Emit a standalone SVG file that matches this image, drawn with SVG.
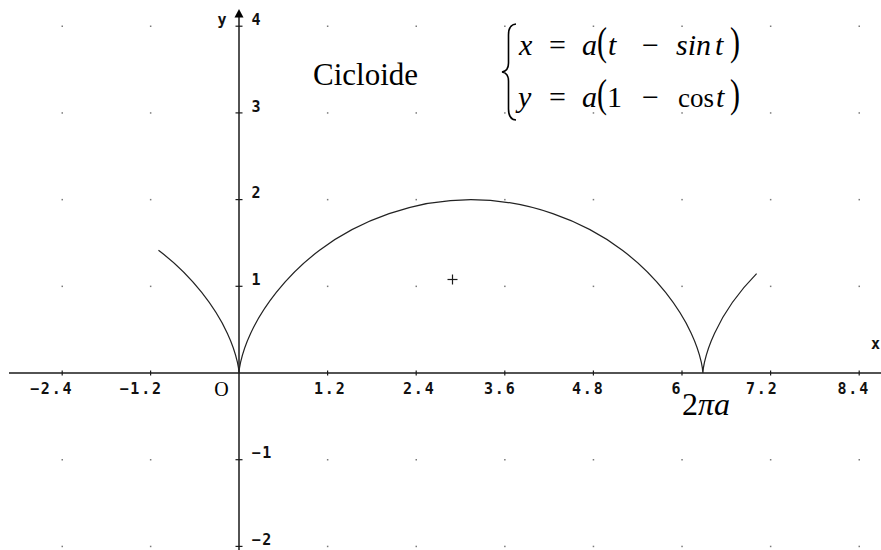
<svg xmlns="http://www.w3.org/2000/svg" width="881" height="550" viewBox="0 0 881 550">
<style>
.ax{stroke:#1a1a1a;stroke-width:1.5;fill:none}
.tk{stroke:#1a1a1a;stroke-width:1.2}
.dot{fill:#7a7a7a}
.lbl{font-family:"DejaVu Sans Mono","Liberation Mono",monospace;font-weight:bold;font-size:15px;letter-spacing:1.8px;fill:#111}
.ser{font-family:"Liberation Serif","Times New Roman","DejaVu Serif",serif;fill:#000}
.it{font-style:italic}
.curve{stroke:#222;stroke-width:1.2;fill:none}
</style>
<rect width="881" height="550" fill="#fff"/>
<g id="grid">
<g class="dot">
<rect x="61.5" y="25.5" width="1.5" height="1.5"/><rect x="149.9" y="25.5" width="1.5" height="1.5"/><rect x="326.9" y="25.5" width="1.5" height="1.5"/><rect x="415.5" y="25.5" width="1.5" height="1.5"/><rect x="504.1" y="25.5" width="1.5" height="1.5"/><rect x="592.7" y="25.5" width="1.5" height="1.5"/><rect x="681.3" y="25.5" width="1.5" height="1.5"/><rect x="769.9" y="25.5" width="1.5" height="1.5"/><rect x="858.5" y="25.5" width="1.5" height="1.5"/>
<rect x="61.5" y="112.2" width="1.5" height="1.5"/><rect x="149.9" y="112.2" width="1.5" height="1.5"/><rect x="326.9" y="112.2" width="1.5" height="1.5"/><rect x="415.5" y="112.2" width="1.5" height="1.5"/><rect x="504.1" y="112.2" width="1.5" height="1.5"/><rect x="592.7" y="112.2" width="1.5" height="1.5"/><rect x="681.3" y="112.2" width="1.5" height="1.5"/><rect x="769.9" y="112.2" width="1.5" height="1.5"/><rect x="858.5" y="112.2" width="1.5" height="1.5"/>
<rect x="61.5" y="198.9" width="1.5" height="1.5"/><rect x="149.9" y="198.9" width="1.5" height="1.5"/><rect x="326.9" y="198.9" width="1.5" height="1.5"/><rect x="415.5" y="198.9" width="1.5" height="1.5"/><rect x="504.1" y="198.9" width="1.5" height="1.5"/><rect x="592.7" y="198.9" width="1.5" height="1.5"/><rect x="681.3" y="198.9" width="1.5" height="1.5"/><rect x="769.9" y="198.9" width="1.5" height="1.5"/><rect x="858.5" y="198.9" width="1.5" height="1.5"/>
<rect x="61.5" y="285.6" width="1.5" height="1.5"/><rect x="149.9" y="285.6" width="1.5" height="1.5"/><rect x="326.9" y="285.6" width="1.5" height="1.5"/><rect x="415.5" y="285.6" width="1.5" height="1.5"/><rect x="504.1" y="285.6" width="1.5" height="1.5"/><rect x="592.7" y="285.6" width="1.5" height="1.5"/><rect x="681.3" y="285.6" width="1.5" height="1.5"/><rect x="769.9" y="285.6" width="1.5" height="1.5"/><rect x="858.5" y="285.6" width="1.5" height="1.5"/>
<rect x="61.5" y="459" width="1.5" height="1.5"/><rect x="149.9" y="459" width="1.5" height="1.5"/><rect x="326.9" y="459" width="1.5" height="1.5"/><rect x="415.5" y="459" width="1.5" height="1.5"/><rect x="504.1" y="459" width="1.5" height="1.5"/><rect x="592.7" y="459" width="1.5" height="1.5"/><rect x="681.3" y="459" width="1.5" height="1.5"/><rect x="769.9" y="459" width="1.5" height="1.5"/><rect x="858.5" y="459" width="1.5" height="1.5"/>
<rect x="61.5" y="545.7" width="1.5" height="1.5"/><rect x="149.9" y="545.7" width="1.5" height="1.5"/><rect x="326.9" y="545.7" width="1.5" height="1.5"/><rect x="415.5" y="545.7" width="1.5" height="1.5"/><rect x="504.1" y="545.7" width="1.5" height="1.5"/><rect x="592.7" y="545.7" width="1.5" height="1.5"/><rect x="681.3" y="545.7" width="1.5" height="1.5"/><rect x="769.9" y="545.7" width="1.5" height="1.5"/><rect x="858.5" y="545.7" width="1.5" height="1.5"/>
</g>
</g>
<g id="axes">
<line class="ax" x1="9" y1="373" x2="881" y2="373"/>
<line class="ax" x1="239" y1="15" x2="239" y2="550"/>
<polygon points="239,9 234.5,17.5 243.5,17.5" fill="#000"/>
<g class="tk">
<line x1="62.2" y1="370.5" x2="62.2" y2="375.5"/><line x1="150.6" y1="370.5" x2="150.6" y2="375.5"/><line x1="327.6" y1="370.5" x2="327.6" y2="375.5"/><line x1="416.2" y1="370.5" x2="416.2" y2="375.5"/><line x1="504.8" y1="370.5" x2="504.8" y2="375.5"/><line x1="593.4" y1="370.5" x2="593.4" y2="375.5"/><line x1="682" y1="370.5" x2="682" y2="375.5"/><line x1="770.6" y1="370.5" x2="770.6" y2="375.5"/><line x1="859.2" y1="370.5" x2="859.2" y2="375.5"/>
<line x1="235.5" y1="26.2" x2="242.5" y2="26.2"/><line x1="235.5" y1="112.9" x2="242.5" y2="112.9"/><line x1="235.5" y1="199.6" x2="242.5" y2="199.6"/><line x1="235.5" y1="286.3" x2="242.5" y2="286.3"/><line x1="235.5" y1="459.7" x2="242.5" y2="459.7"/><line x1="235.5" y1="546.4" x2="242.5" y2="546.4"/>
</g>
<g class="lbl">
<text x="30" y="393.5">−2.4</text>
<text x="119.5" y="393.5">−1.2</text>
<text x="314" y="393.5">1.2</text>
<text x="403" y="393.5">2.4</text>
<text x="484" y="393.5">3.6</text>
<text x="572" y="393.5">4.8</text>
<text x="671.5" y="393.5">6</text>
<text x="746" y="393.5">7.2</text>
<text x="837.5" y="393.5">8.4</text>
<text x="251.5" y="24.5">4</text>
<text x="251.5" y="111.5">3</text>
<text x="251.5" y="198.2">2</text>
<text x="251.5" y="284.8">1</text>
<text x="251.5" y="458.2">−1</text>
<text x="251.5" y="544.8">−2</text>
<text x="217.5" y="24.5">y</text>
<text x="871" y="348.5">x</text>
</g>
<text class="ser" font-family="Liberation Serif, DejaVu Serif, serif" x="221.5" y="395.5" font-size="20" text-anchor="middle">O</text>
</g>
<g id="cycloid">
<path class="curve" d="M158.47,250.22 C193.32,276.50 215.99,308.82 227.30,333.14 C238.61,357.46 239,373 239,373 C239,373 239.39,357.46 250.70,333.14 C262.01,308.82 284.68,276.50 319.53,250.22 C359.31,220.22 414.75,199.6 470.94,199.6 C527.13,199.6 582.58,220.22 622.36,250.22 C657.21,276.50 679.88,308.82 691.19,333.14 C702.50,357.46 702.89,373 702.89,373 C702.89,373 703.28,357.46 714.59,333.14 C722.70,315.71 736.39,294.18 756.60,273.68"/>
</g>
<g id="center-mark">
<line class="tk" x1="447.5" y1="279.5" x2="457.5" y2="279.5"/>
<line class="tk" x1="452.5" y1="274.5" x2="452.5" y2="284.5"/>
</g>
<g id="title">
<text class="ser" font-family="Liberation Serif, DejaVu Serif, serif" x="313" y="85" font-size="31">Cicloide</text>
</g>
<g id="equations">
<path d="M516,24 Q508.5,24.5 508.5,35 L508.5,63 Q508.5,71 502,72 Q508.5,73 508.5,81 L508.5,109 Q508.5,119.5 516,120" fill="none" stroke="#000" stroke-width="1.6"/>
<g class="ser" font-family="Liberation Serif, DejaVu Serif, serif" font-size="30">
<text x="519" y="55" class="it">x</text>
<text x="549" y="55">=</text>
<text x="582" y="55" class="it">a</text>
<text transform="translate(597,55) scale(1,1.3)" x="0" y="0">(</text>
<text x="608" y="55" class="it">t</text>
<text x="642" y="55">−</text>
<text x="676" y="55" class="it">sin</text>
<text x="715" y="55" class="it">t</text>
<text transform="translate(730,55) scale(1,1.3)" x="0" y="0">)</text>
<text x="518" y="107" class="it">y</text>
<text x="549" y="107">=</text>
<text x="582" y="107" class="it">a</text>
<text transform="translate(597,107) scale(1,1.3)" x="0" y="0">(</text>
<text x="607" y="107">1</text>
<text x="642" y="107">−</text>
<text x="678" y="107" font-size="27">cos</text>
<text x="716" y="107" class="it">t</text>
<text transform="translate(730,107) scale(1,1.3)" x="0" y="0">)</text>
</g>
</g>
<g id="period-label">
<text class="ser" font-family="Liberation Serif, DejaVu Serif, serif" x="682" y="415" font-size="32">2<tspan class="it">πa</tspan></text>
</g>
</svg>
